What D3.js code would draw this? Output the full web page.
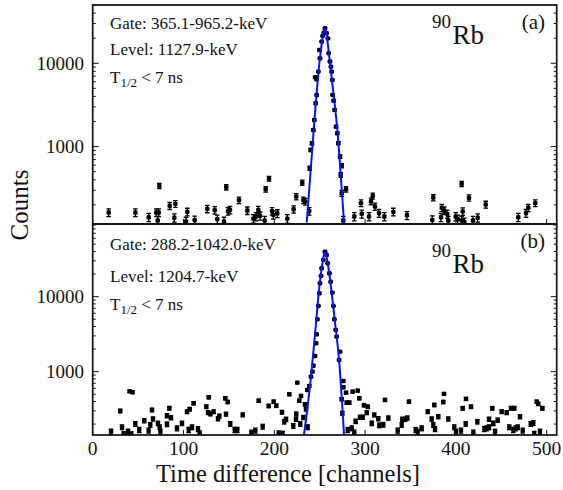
<!DOCTYPE html>
<html><head><meta charset="utf-8">
<script src="https://cdn.jsdelivr.net/npm/d3@7"></script>
<style>body{margin:0;background:#fff}svg{display:block}text{font-family:"Liberation Serif","Times New Roman",serif;fill:#111}</style>
</head><body><svg id="c" width="563" height="490"></svg>
<script>
// ---- data ----
const xTicks = [0,100,200,300,400,500];
const yTicks = [1000,10000];
const labelsA = ["Gate: 365.1-965.2-keV","Level: 1127.9-keV"];
const labelsB = ["Gate: 288.2-1042.0-keV","Level: 1204.7-keV"];
const nucleusMass = "90", nucleusSym = "Rb";
const panelTags = ["(a)","(b)"];
const halfLife = ["T","1/2"," < 7 ns"];

const pointsA = [
[17.6,162],[47,162],[61.7,142],[70,162],[72.7,162],[71.6,130],[73.4,338],[84.8,195],[91,206],[89.9,140],[102.8,127],[104.2,165],[112.3,131],[126.2,179],[134.4,173],[137.2,135],[144.6,127],[147.1,326],[149,168],[151.2,174],[161.1,228],[170.3,171],[176.9,137],[179.8,145],[182.4,174],[184.3,148],[189.4,130],[190.5,308],[194.2,413],[197.5,168],[198.9,152],[203.3,158],[214.3,137],[221.3,177],[224.2,251],[230.8,370],[232,228],[234.1,219],[238.5,168],
[239,551],[240,912],[241.5,1096],[243,1580],[244,2090],[245.6,3310],[246.7,4160],[245,6800],[246.7,6400],[248.5,7930],[250.3,11470],[249.6,14400],[252.2,18200],[253.3,21300],[254.7,23300],[255.8,26300],[257.7,22900],[259.1,19900],[259.9,13200],[261.3,10500],[262.4,9100],[263.2,7940],[263.9,6300],[264.3,4170],[265.4,3560],[266.5,2760],[268,1740],[269.4,1450],[270.5,1100],[272.4,760],[274.2,590],[273.1,457],[274.2,276],[279,308],[276,130],
[288.1,145],[295.5,210],[296.3,156],[304.3,145],[306.5,221],[308.4,256],[310.9,191],[315.3,159],[321.2,145],[331.1,165],[346.1,150],[374,132],[375.1,245],[383.6,142],[384.4,184],[387.2,171],[390.5,156],[391.6,130],[399.8,145],[402,135],[406.4,357],[407.5,167],[406.4,130],[409.3,124],[414.4,243],[418.8,130],[424,140],[432.8,202],[468.7,142],[477.2,159],[479.7,184],[487.4,210]
];
const pointsB = [
[20.2,158],[30.4,299],[32.3,182],[34.1,146],[38.9,158],[40.7,548],[44,531],[42.5,146],[46.9,201],[51.3,167],[56.8,222],[61.6,164],[63.4,195],[65.3,308],[66.4,234],[71.9,205],[73.8,182],[74.5,158],[81.8,259],[84.4,325],[86.2,244],[81.8,199],[92.8,176],[98.3,205],[103.9,293],[106.8,316],[111.2,379],[105.7,167],[109.4,182],[116,172],[117.8,150],[125.1,341],[127.8,456],[127,284],[129.6,273],[133.2,293],[138,236],[139.5,256],[146,442],[148.7,394],[146.8,271],[151.5,201],[156.4,167],[159.3,167],[165.2,265],[174.7,154],[179.1,164],[182.8,410],[187.2,185],[193.8,349],[199.3,398],[202.2,352],[204.8,150],[209.2,148],[208.5,288],[211,215],[212.9,232],[216.5,500],[220.9,189],[223.9,232],[224.2,273],[225.3,713],[227.5,410],[229.4,474],[228.6,201],[232,245],[233.8,367],[234.9,316],[236.8,182],
[236.3,570],[238.5,646],[240.4,857],[241.9,1000],[243,1200],[244.8,1620],[246,2390],[246.7,3150],[247.4,4990],[248.5,7520],[249.6,11100],[250.3,15100],[251.4,18900],[252.2,23900],[254,30900],[255.8,39800],[257.7,35900],[258.8,27900],[260.6,20500],[262.1,15800],[263.9,11300],[265,7520],[266.1,4990],[267.6,3600],[268.7,2930],[272.4,1850],[271.3,1430],[276,752],[279,525],[279.7,386],[282.6,386],[286.3,541],[291.9,558],[293.6,442],
[276,620],[274.2,429],[298.8,357],[302.9,341],[274.9,279],[301.8,284],[294.4,247],[297.4,247],[289.6,218],[307.3,205],[310.1,265],[314.5,236],[315.6,193],[320,196],[321.9,420],[325.6,241],[280.8,167],[285.2,176],[288.1,154],[335.9,164],[340.3,195],[341,232],[344,232],[346.5,241],[348.3,398],[355.7,167],[357.9,158],[362.3,176],[369,293],[373.3,234],[376.2,360],[375.1,195],[377,172],[380.6,251],[386.9,505],[386.1,394],[391.6,234],[398.2,182],[400.1,158],[405.6,164],[407.5,325],[411.1,433],[416.6,341],[410.8,201],[419.2,154],[423.6,215],[431.3,172],[433.9,176],[436.5,182],[436.5,232],[440.1,325],[441.2,205],[443.1,158],[446,226],[450.4,293],[455.9,284],[460.7,325],[464.3,325],[458.8,182],[463.2,167],[465.9,176],[468.1,182],[470.6,251],[473.6,164],[482.4,201],[485.2,207],[489,398],[490.7,372],[495.2,325],[492.6,158],[486.3,148]
];
const fitA = [[235.7,123],[243.4,1585],[249.6,10000],[252.9,19000],[254.6,24000],[255.8,26300],[257,24000],[258.4,19000],[261.7,9100],[269.4,1585],[276.8,120]];
const fitB = [[232.7,143],[241,1000],[245.6,4000],[249.6,13600],[252.8,27000],[254.6,36000],[255.8,39500],[257,36000],[259,27000],[262.4,13600],[266.5,4890],[271.3,1432],[276.8,143]];

// ---- layout ----
const svg = d3.select("#c");
const L = 92.7, R = 556.7;
const x = d3.scaleLinear().domain([0,511]).range([L,R]);
const panels = [
  {pts:pointsA, fit:fitA, y:d3.scaleLog().domain([118,50000]).range([224,5]), top:5, bot:224, labels:labelsA, tag:panelTags[0],
   lb:[29,55,83], nuc:[28,43.5], errScale:1.35},
  {pts:pointsB, fit:fitB, y:d3.scaleLog().domain([143,93000]).range([435,224]), top:224, bot:435, labels:labelsB, tag:panelTags[1],
   lb:[250,281.5,310], nuc:[256.5,272.5], errScale:1.0}
];

panels.forEach((p,i)=>{
  const g = svg.append("g");
  const cid = "clip"+i;
  svg.append("clipPath").attr("id",cid).append("rect").attr("x",L).attr("y",p.top).attr("width",R-L).attr("height",p.bot-p.top);
  const pg = g.append("g").attr("clip-path",`url(#${cid})`);
  const eg = pg.selectAll("g.pt").data(p.pts).join("g").attr("class","pt");
  eg.each(function(d){
    const s = d3.select(this);
    const cx = x(d[0]), e = Math.sqrt(d[1])*p.errScale;
    const y0 = p.y(d[1]+e), y1 = p.y(Math.max(d[1]-e,1));
    s.append("line").attr("x1",cx).attr("x2",cx).attr("y1",y0).attr("y2",y1).attr("stroke","#000").attr("stroke-width",1.3);
    [y0,y1].forEach(yy=>s.append("line").attr("x1",cx-2.3).attr("x2",cx+2.3).attr("y1",yy).attr("y2",yy).attr("stroke","#000").attr("stroke-width",1.3));
    s.append("rect").attr("x",cx-2.2).attr("y",p.y(d[1])-2.2).attr("width",4.4).attr("height",4.4).attr("rx",1.3).attr("fill","#000");
  });
  pg.append("path").datum(p.fit).attr("fill","none").attr("stroke","#0a14f0").attr("stroke-width",2)
    .attr("d",d3.line().x(d=>x(d[0])).y(d=>p.y(d[1])).curve(d3.curveMonotoneX));
  g.append("rect").attr("x",L).attr("y",p.top).attr("width",R-L).attr("height",p.bot-p.top).attr("fill","none").attr("stroke","#111").attr("stroke-width",1.7);
  const [d0,d1] = p.y.domain();
  const ticksAll = [];
  for(let dec=100; dec<=100000; dec*=10){ for(let m=1;m<=9;m++){ const v=m*dec; if(v>=d0 && v<=d1) ticksAll.push(v);} }
  ticksAll.forEach(v=>{
    const yy = p.y(v), major = yTicks.includes(v);
    const len = major?6:3;
    g.append("line").attr("x1",L).attr("x2",L+len).attr("y1",yy).attr("y2",yy).attr("stroke","#111").attr("stroke-width",1);
    g.append("line").attr("x1",R).attr("x2",R-len).attr("y1",yy).attr("y2",yy).attr("stroke","#111").attr("stroke-width",1);
  });
  yTicks.forEach(v=>{
    g.append("text").attr("x",84).attr("y",p.y(v)).attr("dy","0.35em").attr("text-anchor","end").attr("font-size",19).text(v);
  });
  xTicks.forEach(v=>{
    g.append("line").attr("x1",x(v)).attr("x2",x(v)).attr("y1",p.bot).attr("y2",p.bot-5).attr("stroke","#111").attr("stroke-width",1);
  });
  p.labels.forEach((t,k)=>g.append("text").attr("x",110).attr("y",p.lb[k]).attr("font-size",17).text(t));
  const th = g.append("text").attr("x",110).attr("y",p.lb[2]).attr("font-size",17);
  th.append("tspan").text(halfLife[0]);
  th.append("tspan").attr("font-size",13).attr("dy",4).text(halfLife[1]);
  th.append("tspan").attr("dy",-4).text(halfLife[2]);
  g.append("text").attr("x",432).attr("y",p.nuc[0]).attr("font-size",19).text(nucleusMass);
  g.append("text").attr("x",452.5).attr("y",p.nuc[1]).attr("font-size",27).text(nucleusSym);
  g.append("text").attr("x",545).attr("y",i===0?28.5:247.5).attr("text-anchor","end").attr("font-size",21).text(p.tag);
});

xTicks.forEach(v=>svg.append("text").attr("x",x(v)).attr("y",455).attr("text-anchor","middle").attr("font-size",19.5).text(v));
svg.append("text").attr("x",288).attr("y",482).attr("text-anchor","middle").attr("font-size",24.5).text("Time difference [channels]");
svg.append("text").attr("transform","translate(28,205) rotate(-90)").attr("text-anchor","middle").attr("font-size",25).text("Counts");
</script></body></html>
